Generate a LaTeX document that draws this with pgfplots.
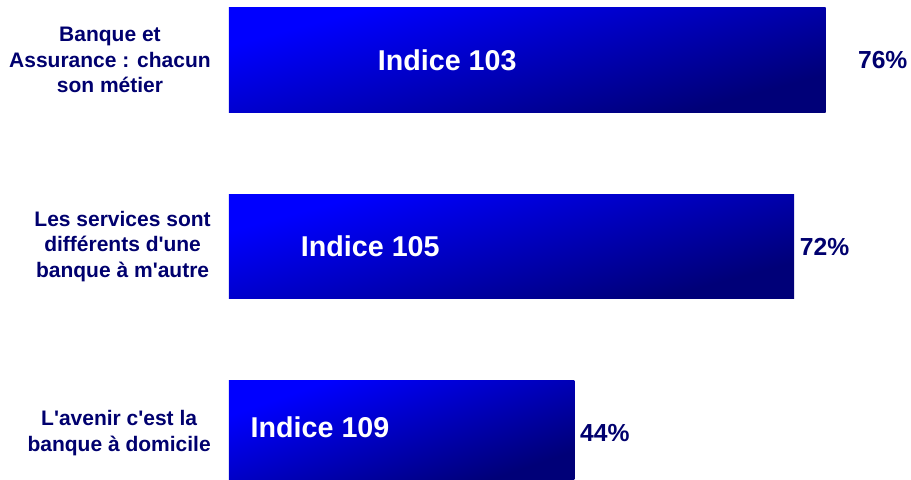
\documentclass[border=0pt]{standalone}
\usepackage{fontspec}
\setmainfont{Liberation Sans}
\usepackage{pgfplots}
\pgfplotsset{compat=1.18}
\definecolor{navytxt}{RGB}{0,0,110}
\definecolor{barbright}{RGB}{0,0,255}
\definecolor{bardark}{RGB}{0,0,120}
\pgfdeclareverticalshading{barshade}{100bp}{color(0bp)=(bardark); color(28bp)=(bardark); color(72bp)=(barbright); color(100bp)=(barbright)}
\begin{document}
\begin{tikzpicture}
\begin{axis}[
  name=ax,
  at={(0,0)}, anchor=south west,
  scale only axis,
  width=511.5pt, height=360pt,
  xmin=0, xmax=86.88,
  ymin=-0.252, ymax=2.3217,
  axis line style={draw=none},
  tick style={draw=none},
  major tick length=0pt,
  xtick=\empty,
  ytick={0,1,2},
  yticklabels={
    {L\textquotesingle avenir c\textquotesingle est la\\banque à domicile},
    {Les services sont\\différents d\textquotesingle une\\banque à m\textquotesingle autre},
    {Banque et\\Assurance : chacun\\son métier}},
  yticklabel style={align=center, inner sep=0pt, xshift=-13.5pt,
    font=\fontsize{15.75pt}{19.1pt}\selectfont\bfseries, text=navytxt},
  every axis plot/.append style={xbar, bar width=0.558, bar shift=0pt, draw=none},
]
\addplot[xbar, draw=none, shade, shading=barshade, shading angle=15] coordinates {(76,2)};
\addplot[xbar, draw=none, shade, shading=barshade, shading angle=15] coordinates {(72,1)};
\addplot[xbar, draw=none, shade, shading=barshade, shading angle=19] coordinates {(44,0)};
\node[anchor=west, inner sep=0pt, text=navytxt, font=\fontsize{18.5pt}{20pt}\selectfont\bfseries] at (axis cs:80.1,2) {76\%};
\node[anchor=west, inner sep=0pt, text=navytxt, font=\fontsize{18.5pt}{20pt}\selectfont\bfseries] at (axis cs:72.7,1) {72\%};
\node[anchor=west, inner sep=0pt, text=navytxt, font=\fontsize{18.5pt}{20pt}\selectfont\bfseries] at (axis cs:44.7,0) {44\%};
\node[inner sep=0pt, text=white, font=\fontsize{21.5pt}{23pt}\selectfont\bfseries] at (axis cs:27.8,2) {Indice 103};
\node[inner sep=0pt, text=white, font=\fontsize{21.5pt}{23pt}\selectfont\bfseries] at (axis cs:18.0,1) {Indice 105};
\node[inner sep=0pt, text=white, font=\fontsize{21.5pt}{23pt}\selectfont\bfseries] at (axis cs:11.6,0.03) {Indice 109};
\end{axis}
\pgfresetboundingbox
\useasboundingbox ([xshift=-171.75pt]ax.south west) rectangle (ax.north east);
\end{tikzpicture}
\end{document}
